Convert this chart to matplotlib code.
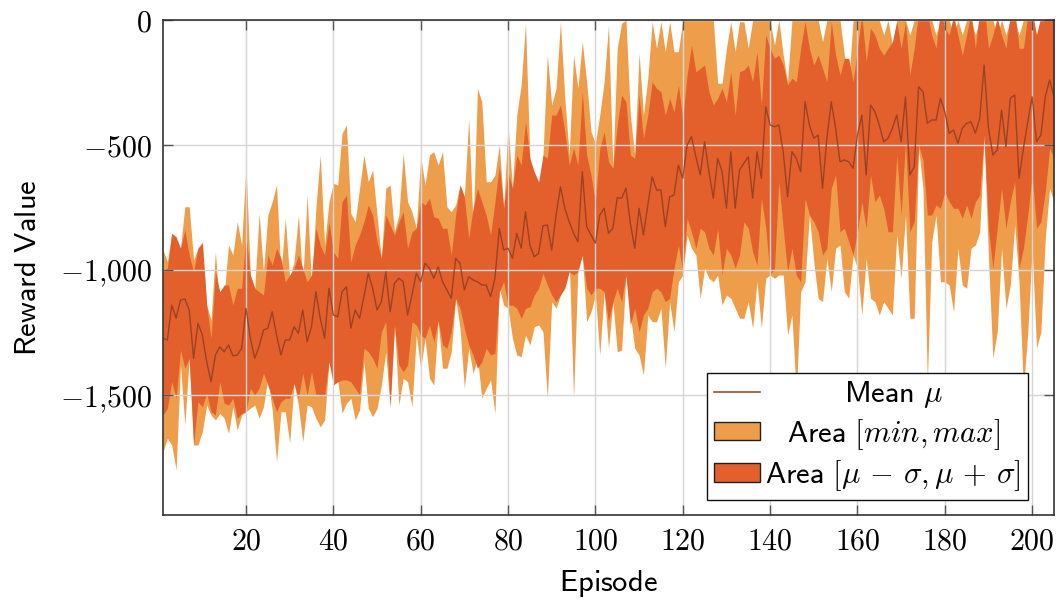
import numpy as np
import matplotlib
matplotlib.use("Agg")
import matplotlib.pyplot as plt
from matplotlib.patches import Patch
from matplotlib.lines import Line2D
from matplotlib.ticker import FixedLocator, FuncFormatter

plt.rcParams['mathtext.fontset'] = 'cm'

episodes = list(range(1, 206))

mean_reward = [
    -1273, -1280, -1140, -1193, -1120, -1116, -1160, -1353, -1213, -1260,
    -1367, -1447, -1340, -1307, -1327, -1300, -1343, -1340, -1313, -1153,
    -1273, -1353, -1307, -1240, -1233, -1167, -1260, -1340, -1280, -1280,
    -1227, -1253, -1160, -1287, -1227, -1087,
    -1193, -1273, -1073, -1180, -1187, -1087, -1067, -1233, -1160, -1193,
    -1107, -1013, -1073, -1160, -1127, -1007, -1167, -1053, -1033, -1047,
    -1180, -1100, -1013, -1047, -973, -993, -1033, -987, -1047, -1080,
    -1113, -953,
    -973, -1080, -1027, -1040, -1047, -1060, -1060, -1107, -1033, -833,
    -920, -913, -953, -853, -913, -767, -900, -947, -933, -823,
    -820, -920, -780, -667, -753, -807, -853, -887, -607, -827,
    -860, -893, -780, -753,
    -853, -833, -711, -713, -673, -813, -913, -753, -860, -740,
    -627, -680, -680, -827, -707, -700, -580, -633, -500, -467,
    -547, -620, -487, -607, -713, -553, -607, -753, -527, -753,
    -600, -573, -547,
    -713, -527, -633, -347, -420, -427, -420, -527, -707, -527,
    -553, -607, -327, -420, -473, -460, -673, -473, -327, -433,
    -567, -560, -567, -593, -460, -380, -620, -340, -367, -420,
    -487, -473, -433,
    -380, -487, -307, -620, -587, -267, -287, -413, -400, -400,
    -313, -367, -453, -440, -493, -433, -413, -407, -453, -393,
    -180, -433, -540, -520, -360, -507, -313, -300, -633, -513,
    -407, -307, -487, -460, -307, -240, -307,
]

std_upper = [
    -1007, -993, -853, -867, -913, -840, -940, -1007, -913, -893,
    -1140, -1273, -1007, -1087, -1060, -1060, -1140, -1073, -1073, -860,
    -1020, -1073, -1087, -1100, -940, -980, -913, -953, -1047, -1020,
    -993, -940, -993, -1047, -1020, -833,
    -900, -940, -807, -927, -953, -727, -700, -967, -900, -860,
    -807, -740, -780, -887, -953, -780, -820, -860, -807, -767,
    -913, -847, -833, -727, -740, -713, -787, -793, -833, -833,
    -940, -780,
    -660, -707, -873, -753, -673, -727, -780, -860, -727, -580,
    -753, -607, -673, -540, -580, -407, -553, -607, -647, -540,
    -553, -380, -380, -340, -447, -580, -513, -580, -287, -540,
    -620, -727, -513, -447,
    -567, -593, -420, -300, -327, -540, -553, -300, -473, -380,
    -247, -273, -287, -380, -313, -367, -260, -393, -220, -100,
    -207, -193, -180, -287, -340, -313, -273, -327, -207, -380,
    -207, -200, -180,
    -247, -127, -340, -60, -113, -153, -140, -180, -260, -233,
    -247, -113, -7, -113, -180, -140, -193, -247, -7, -140,
    -220, -153, -153, -247, -113, 20, -167, -33, -60, -113,
    -140, -113, -87,
    -7, -113, -7, -220, -113, 35, 15, 25, -60, -113,
    40, -33, -60, 20, -60, -140, -60, 30, -113, 45,
    60, -113, -60, 10, -60, -113, 25, 40, -113, -113,
    20, 35, -60, 15, 30, 50, 40,
]

max_reward = [
    -920, -967, -853, -887, -913, -747, -747, -960, -913, -887,
    -1140, -1200, -927, -1167, -1100, -900, -940, -807, -900, -580,
    -1020, -1073, -773, -1007, -780, -727, -660, -1020, -793, -1033,
    -967, -780, -1047, -700, -1060, -753,
    -540, -900, -727, -653, -660, -453, -420, -773, -807, -673,
    -540, -647, -600, -780, -953, -673, -660, -847, -780, -533,
    -727, -767, -833, -547, -660, -540, -527, -580, -527, -747,
    -767, -740,
    -660, -707, -393, -827, -273, -327, -647, -647, -620, -500,
    -753, -420, -673, -380, -260, -13, -553, -753, -753, -540,
    -140, -340, -273, -7, -313, -540, -140, -273, -87, -247,
    -447, -493, -380, -247,
    -20, -593, -113, -13, 0, -380, -540, -133, -380, -233,
    -7, -113, -7, -127, -7, -127, -127, 0, 0, 0,
    0, 0, 0, 0, 0, -253, -253, -113, -7, -127,
    -7, -7, -113,
    0, 0, 0, 0, 0, -100, 0, -140, -247, 0,
    0, 0, 0, 0, 0, 0, -87, 0, 0, 0,
    0, -140, -247, 0, 0, 0, 0, 0, 0, 0,
    -60, 0, -100,
    0, 0, 0, -60, 0, 0, 0, 0, 0, -60,
    0, 0, 0, -60, 0, -60, 0, 0, -60, 0,
    0, 0, 0, -60, 0, -60, 0, 0, -60, 0,
    0, 0, -60, 0, 0, 0, 0,
]

std_lower = [
    -1580, -1553, -1447, -1513, -1320, -1393, -1353, -1700, -1527, -1547,
    -1493, -1567, -1580, -1447, -1533, -1540, -1513, -1593, -1573, -1567,
    -1473, -1500, -1473, -1413, -1460, -1513, -1567, -1527, -1513, -1513,
    -1453, -1513, -1413, -1500, -1407, -1500,
    -1500, -1500, -1367, -1460, -1447, -1440, -1440, -1447, -1473, -1500,
    -1313, -1327, -1353, -1393, -1247, -1207, -1540, -1220, -1380, -1407,
    -1380, -1207, -1220, -1260, -1273, -1220, -1287, -1200, -1300, -1313,
    -1247, -1113,
    -1153, -1233, -1300, -1340, -1393, -1367, -1313, -1340, -1333, -1087,
    -1047, -1140, -1140, -1153, -1193, -1153, -1147, -1100, -1073, -1013,
    -1060, -1100, -1127, -1100, -1073, -1007, -1020, -1007, -940, -1073,
    -1100, -1073, -1073, -1087,
    -1207, -1127, -1073, -1127, -1020, -1220, -1153, -1247, -1180, -1153,
    -1087, -1073, -1087, -1127, -1113, -993, -900, -1007, -793, -847,
    -913, -833, -847, -913, -940, -833, -1020, -913, -940, -993,
    -940, -807, -833,
    -927, -980, -713, -833, -1020, -993, -647, -833, -1007, -913,
    -1020, -1047, -713, -780, -807, -847, -940, -913, -673, -620,
    -847, -833, -887, -940, -847, -727, -833, -620, -727, -700,
    -753, -847, -847,
    -540, -780, -487, -847, -807, -500, -560, -780, -780, -740,
    -753, -687, -727, -753, -753, -793, -740, -793, -727, -700,
    -460, -833, -993, -833, -673, -833, -727, -647, -993, -913,
    -780, -620, -833, -807, -687, -513, -553,
]

min_reward = [
    -1727, -1673, -1700, -1800, -1380, -1620, -1353, -1700, -1700, -1647,
    -1540, -1580, -1600, -1573, -1593, -1653, -1547, -1640, -1580, -1567,
    -1553, -1540, -1593, -1547, -1433, -1560, -1767, -1567, -1567, -1693,
    -1453, -1540, -1687, -1540, -1547, -1593,
    -1627, -1600, -1367, -1420, -1440, -1573, -1533, -1513, -1600, -1560,
    -1367, -1553, -1587, -1553, -1460, -1327, -1553, -1220, -1540, -1433,
    -1447, -1547, -1260, -1393, -1273, -1433, -1460, -1207, -1393, -1393,
    -1327, -1113,
    -1233, -1473, -1313, -1413, -1353, -1513, -1473, -1440, -1573, -1073,
    -1140, -1153, -1273, -1340, -1347, -1260, -1300, -1227, -1220, -1247,
    -1513, -1127, -1153, -1100, -1047, -953, -1513, -993, -940, -1207,
    -1167, -1100, -1340, -1087,
    -1313, -1127, -1327, -1320, -1020, -1180, -1313, -1340, -1420, -1180,
    -1207, -1207, -1153, -1393, -1127, -1247, -1047, -1020, -860, -913,
    -940, -1113, -993, -1033, -1047, -1020, -1140, -1100, -1113, -1153,
    -1193, -1193, -1127,
    -1233, -1047, -1233, -1033, -1020, -1033, -1020, -1020, -1260, -1180,
    -1500, -1087, -1047, -780, -967, -1113, -1127, -953, -1087, -913,
    -900, -1087, -1113, -940, -993, -1180, -953, -1113, -1127, -1180,
    -1127, -1153, -1180,
    -860, -1033, -780, -1193, -1193, -513, -673, -1450, -887, -780,
    -1047, -1047, -1060, -1167, -913, -1060, -1073, -913, -900, -847,
    -473, -953, -1353, -1247, -913, -1153, -1060, -820, -1047, -1480,
    -1247, -913, -1313, -1247, -873, -673, -727,
]

x_ticks = [20, 40, 60, 80, 100, 120, 140, 160, 180, 200]
y_ticks = [-1500, -1000, -500, 0]

light = '#EE9D4B'
dark = '#E3602D'
line_c = '#8E3D24'

fig = plt.figure(figsize=(10.64, 6.01), dpi=100)
ax = fig.add_axes([0.1532, 0.1431, 0.8374, 0.8236])

ax.fill_between(episodes, min_reward, max_reward, color=light, lw=0, zorder=1)
ax.fill_between(episodes, std_lower, std_upper, color=dark, lw=0, zorder=2)
ax.plot(episodes, mean_reward, color=line_c, lw=1.0, alpha=0.85, zorder=3)

ax.set_xlim(1, 205)
ax.set_ylim(-1980, 0)

ax.xaxis.set_major_locator(FixedLocator(x_ticks))
ax.yaxis.set_major_locator(FixedLocator(y_ticks))

def yfmt(v, pos):
    v = int(round(v))
    if v == 0:
        return r'$0$'
    s = f"{abs(v):,}".replace(',', '{,}')
    return r'$-' + s + r'$'

ax.xaxis.set_major_formatter(FuncFormatter(lambda v, p: r'$%d$' % int(v)))
ax.yaxis.set_major_formatter(FuncFormatter(yfmt))

ax.grid(True, color='#d6d6d6', lw=1.0, zorder=0)
ax.set_axisbelow(False)
for gl in ax.get_xgridlines() + ax.get_ygridlines():
    gl.set_zorder(4)

ax.tick_params(axis='both', which='major', direction='in', length=7, width=1.0,
               color='#555555', labelsize=21.5, top=True, right=True, pad=8)
for sp in ax.spines.values():
    sp.set_color('#333333')
    sp.set_linewidth(1.2)
    sp.set_zorder(6)

ax.set_xlabel(r'$\mathsf{Episode}$', fontsize=22, labelpad=9)
ax.set_ylabel(r'$\mathsf{Reward\ Value}$', fontsize=22, labelpad=13)

handles = [
    Line2D([0], [0], color='#A65D45', lw=1.3),
    Patch(facecolor=light, edgecolor='#222222', lw=1.0),
    Patch(facecolor=dark, edgecolor='#222222', lw=1.0),
]
labels = [
    r'$\mathsf{Mean}\ \mu$',
    r'$\mathsf{Area}\ [min, max]$',
    r'$\mathsf{Area}\ [\mu\,-\,\sigma, \mu\,+\,\sigma]$',
]
leg = ax.legend(handles, labels, loc='lower right', bbox_to_anchor=(0.9705, 0.030),
                fontsize=22, frameon=True, fancybox=False, framealpha=1.0,
                edgecolor='#111111', handlelength=1.5, handleheight=0.55,
                borderpad=0.22, labelspacing=0.22, handletextpad=0.18,
                borderaxespad=0.0)
leg.get_frame().set_linewidth(1.0)
leg.set_zorder(10)

# centre the legend entries in their text column
fig.canvas.draw()
renderer = fig.canvas.get_renderer()
texts = leg.get_texts()
widths = [t.get_window_extent(renderer).width for t in texts]
wmax = max(widths)
for t, w in zip(texts, widths):
    t.set_x((wmax - w) / 2.0)

fig.savefig('out.png', dpi=100)
